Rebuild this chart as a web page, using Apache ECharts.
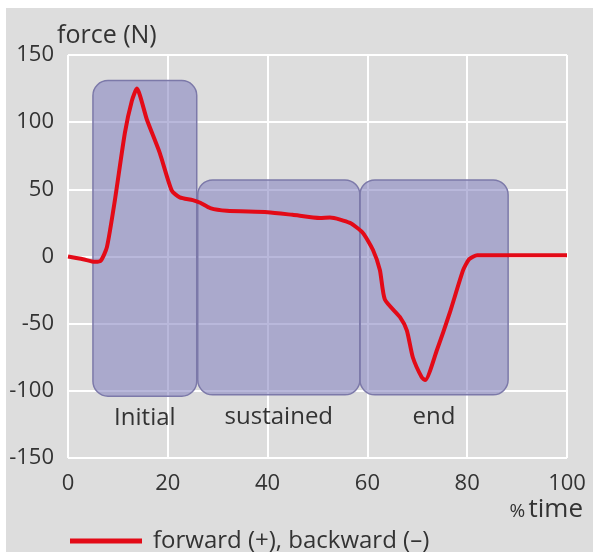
<!DOCTYPE html>
<html>
<head>
<meta charset="utf-8">
<script src="https://cdn.jsdelivr.net/npm/echarts@6/dist/echarts.min.js"></script>
<style>
html,body{margin:0;padding:0;background:#ffffff;}
#chart{width:593px;height:552px;}
</style>
</head>
<body>
<div id="chart"></div>
<script>
// ---- data ----
var timePct = [0, 3, 5.4, 6.6, 7.8, 9.4, 11.4, 12.8, 13.8, 15.8, 18.4, 20.8, 22.4, 25, 26.5, 28.5, 31.8, 40, 45, 50.5, 52.5, 56.5, 59.1, 61.1, 62.5, 63.5, 66.5, 67.9, 69.1, 70.9, 71.6, 73.9, 76.5, 79.2, 80.4, 82, 84, 100];
var force   = [0, -2, -4, -3, 7, 42, 92, 116, 125, 102, 77, 49, 44, 42, 40, 36, 34, 33, 31, 28.6, 29, 25, 17.5, 5, -10, -32, -45, -55, -75, -90, -92, -70, -42, -10, -2, 1, 1, 1];
var phaseNames  = ['Initial', 'sustained', 'end'];
var phaseStart  = [5, 26, 58.5];
var phaseEnd    = [25.8, 58.5, 88.2];
var phaseTop    = [131, 57, 57];
var phaseBottom = [-104, -103, -103];
var xTicks = [0, 20, 40, 60, 80, 100];
var yTicks = [-150, -100, -50, 0, 50, 100, 150];
var seriesName = 'forward (+), backward (–)';

var lineData = timePct.map(function (t, i) { return [t, force[i]]; });
var boxData = phaseNames.map(function (n, i) { return [phaseStart[i], phaseEnd[i], phaseTop[i], phaseBottom[i]]; });

var FONT = '"Open Sans", "Noto Sans", sans-serif';
var TXT = '#333333';

var chart = echarts.init(document.getElementById('chart'), null, {renderer: 'canvas'});
chart.setOption({
  animation: false,
  backgroundColor: '#ffffff',
  graphic: [
    {type: 'rect', z: -10, shape: {x: 6, y: 8, width: 593, height: 552}, style: {fill: '#dddddd'}, silent: true},
    {type: 'text', left: 57, top: 23, style: {text: 'force (N)', font: '25px ' + FONT, fill: TXT}},
    {type: 'text', right: 10, top: 497, style: {
      text: '{p|%} {t|time}',
      rich: {p: {fontSize: 19, fontFamily: FONT, fill: TXT, padding: [4, 0, 0, 0]}, t: {fontSize: 26, fontFamily: FONT, fill: TXT}}
    }}
  ],
  grid: {left: 68, right: 26, top: 55, bottom: 94, containLabel: false},
  legend: {
    left: 65, top: 524,
    data: [{name: seriesName, icon: 'rect'}],
    itemWidth: 72, itemHeight: 5, itemGap: 10,
    textStyle: {fontSize: 24, fontFamily: FONT, color: TXT, padding: [0, 0, 0, 6]}
  },
  xAxis: {
    type: 'value', min: 0, max: 100, interval: 20,
    axisLine: {show: false}, axisTick: {show: false},
    splitLine: {show: true, lineStyle: {color: '#ffffff', width: 2}},
    axisLabel: {fontSize: 22, fontFamily: FONT, color: TXT, margin: 15,
      formatter: function (v) { return xTicks.indexOf(v) >= 0 ? String(v) : ''; }}
  },
  yAxis: {
    type: 'value', min: -150, max: 150, interval: 50,
    axisLine: {show: false}, axisTick: {show: false},
    splitLine: {show: true, lineStyle: {color: '#ffffff', width: 2}},
    axisLabel: {fontSize: 22, fontFamily: FONT, color: TXT, margin: 14,
      formatter: function (v) { return yTicks.indexOf(v) >= 0 ? String(v) : ''; }}
  },
  series: [
    {
      type: 'custom',
      name: 'phases',
      z: 2,
      encode: {x: [0, 1], y: [2, 3]},
      data: boxData,
      renderItem: function (params, api) {
        var p1 = api.coord([api.value(0), api.value(2)]);
        var p2 = api.coord([api.value(1), api.value(3)]);
        var lbl = api.coord([(api.value(0) + api.value(1)) / 2, api.value(3)]);
        return {
          type: 'group',
          children: [
            {type: 'rect', shape: {x: p1[0], y: p1[1], width: p2[0] - p1[0], height: p2[1] - p1[1], r: 15},
              style: {fill: 'rgba(128,125,190,0.55)', stroke: '#7c79a9', lineWidth: 1.5}},
            {type: 'text', style: {text: phaseNames[params.dataIndex], x: lbl[0], y: lbl[1] + 22,
              align: 'center', verticalAlign: 'middle', font: '24px ' + FONT, fill: TXT}}
          ]
        };
      }
    },
    {
      type: 'line',
      name: seriesName,
      z: 5,
      data: lineData,
      smooth: 0.2,
      symbol: 'none',
      itemStyle: {color: '#e30a17'},
      lineStyle: {color: '#e30a17', width: 4}
    }
  ]
});
</script>
</body>
</html>
